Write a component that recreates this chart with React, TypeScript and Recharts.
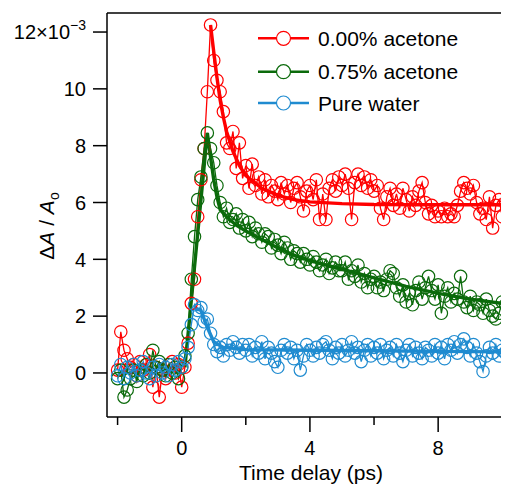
import React from 'react';
import { ComposedChart, Line, XAxis, YAxis, ReferenceLine, Legend } from 'recharts';

const FONT = '"Liberation Sans", Arial, Helvetica, sans-serif';

const T = [
  -2.0, -1.9, -1.8, -1.7, -1.6, -1.5, -1.4, -1.3, -1.2, -1.1,
  -1.0, -0.9, -0.8, -0.7, -0.6, -0.5, -0.4, -0.3, -0.2, -0.1,
  0.0, 0.1, 0.2, 0.3, 0.4, 0.5, 0.6, 0.7, 0.8, 0.9,
  1.0, 1.1, 1.2, 1.3, 1.4, 1.5, 1.6, 1.7, 1.8, 1.9,
  2.0, 2.1, 2.2, 2.3, 2.4, 2.5, 2.6, 2.7, 2.8, 2.9,
  3.0, 3.1, 3.2, 3.3, 3.4, 3.5, 3.6, 3.7, 3.8, 3.9,
  4.0, 4.1, 4.2, 4.3, 4.4, 4.5, 4.6, 4.7, 4.8, 4.9,
  5.0, 5.1, 5.2, 5.3, 5.4, 5.5, 5.6, 5.7, 5.8, 5.9,
  6.0, 6.1, 6.2, 6.3, 6.4, 6.5, 6.6, 6.7, 6.8, 6.9,
  7.0, 7.1, 7.2, 7.3, 7.4, 7.5, 7.6, 7.7, 7.8, 7.9,
  8.0, 8.1, 8.2, 8.3, 8.4, 8.5, 8.6, 8.7, 8.8, 8.9,
  9.0, 9.1, 9.2, 9.3, 9.4, 9.5, 9.6, 9.7, 9.8, 9.9,
  10.0, 10.1,
];

// values in units of 1e-3
const acetone000 = [
  0.1, 1.45, 0.8, 0.5, 0.2, 0.3, -0.1, 0.4, 0.1, 0.3,
  0.65, -0.5, 0.2, -0.85, 0.1, -0.2, 0.3, 0.4, 0.0, 0.3,
  -0.5, 0.2, 1.05, 2.45, 3.3, 5.5, 6.8, 7.9, 9.9, 12.25,
  11.0, 10.3, 9.9, 9.2, 8.1, 7.9, 8.5, 7.2, 8.1, 6.85,
  7.3, 6.5, 7.35, 6.6, 6.9, 6.3, 6.8, 6.2, 6.6, 6.4,
  6.1, 6.7, 6.3, 6.6, 6.0, 6.5, 6.7, 6.2, 5.7, 6.4,
  6.6, 6.1, 6.8, 5.4, 6.3, 5.4, 6.5, 6.8, 6.4, 6.9,
  6.6, 7.0, 6.5, 5.4, 6.7, 7.0, 6.6, 6.9, 6.5, 6.8,
  6.4, 6.6, 5.8, 5.4, 6.2, 6.5, 5.9, 6.3, 5.8, 6.5,
  6.1, 5.7, 6.2, 5.9, 6.4, 6.7, 6.0, 5.6, 5.9, 5.5,
  5.7, 5.5, 5.8, 5.5, 5.6, 5.5, 5.9, 6.4, 6.7, 6.5,
  6.3, 6.6, 6.0, 5.6, 5.8, 5.4, 6.2, 5.1, 5.9, 6.1,
  5.5, 6.0,
];

const acetone075 = [
  -0.2, 0.1, -0.85, -0.6, -0.2, 0.1, -0.3, 0.1, -0.1, 0.3,
  0.0, 0.8, 0.2, 0.4, 0.1, -0.1, 0.3, 0.0, 0.2, -0.2,
  0.2, 0.6, 1.4, 3.3, 4.8, 6.1, 6.9, 7.9, 8.45, 7.9,
  7.4, 6.6, 6.0, 5.5, 5.8, 5.3, 5.4, 5.6, 5.1, 5.4,
  5.0, 5.3, 4.8, 5.1, 4.9, 4.6, 4.9, 4.8, 4.4, 4.7,
  4.5, 4.2, 4.6, 4.4, 4.0, 4.3, 4.2, 3.9, 4.2, 4.0,
  3.8, 4.1, 3.9, 3.6, 3.8, 4.0, 3.5, 3.7, 3.9, 3.6,
  3.6, 3.9, 3.3, 3.6, 3.4, 3.8, 3.2, 3.5, 3.0, 3.3,
  3.4, 3.0, 3.2, 2.9, 3.3, 3.6, 3.5, 3.0, 2.7, 3.1,
  2.5, 2.8, 2.4, 2.9, 3.2, 2.6, 3.0, 3.4, 2.9, 2.6,
  3.1, 2.1, 2.7, 3.0, 2.5, 2.8, 2.6, 3.4, 2.5, 2.3,
  2.7, 2.2, 2.5, 2.4, 2.1, 2.6, 2.2, 2.0, 1.9, 2.1,
  2.5, 2.4,
];

const pureWater = [
  -0.1, 0.3, -0.2, 0.2, 0.0, 0.3, -0.1, 0.1, 0.4, 0.0,
  -0.2, 0.2, -0.1, 0.3, 0.0, 0.2, -0.1, 0.3, 0.1, 0.4,
  0.2, 0.5, 0.9, 1.7, 2.4, 2.2, 2.3, 1.8, 1.9, 1.4,
  1.0, 0.75, 0.9, 0.6, 1.0, 0.8, 1.1, 0.9, 0.7, 1.0,
  0.8, 1.0, 0.6, 0.9, 0.7, 1.1, 0.5, 0.9, 0.7, 0.4,
  0.2, 0.8, 1.0, 0.7, 0.9, 0.5, 0.8, 0.1, 0.6, 1.0,
  0.8, 0.6, 0.9, 0.7, 1.0, 1.1, 0.8, 0.5, 0.9, 0.7,
  1.0, 0.6, 0.8, 1.1, 0.7, 0.9, 0.4, 0.8, 1.0, 0.6,
  0.9, 0.7, 1.0, 0.5, 0.8, 0.9, 0.6, 1.0, 0.7, 0.4,
  0.8, 1.0, 0.6, 0.9, 0.7, 0.5, 0.9, 0.8, 0.6, 1.0,
  0.7, 0.9, 0.5, 1.0, 0.8, 1.1, 0.7, 1.0, 1.2, 0.9,
  0.6, 1.0, 0.7, 0.4, 0.05, 0.6, 0.9, 0.7, 1.0, 0.6,
  0.8, 0.7,
];

const fit000T = [0.9, 1.0, 1.1, 1.2, 1.3, 1.4, 1.6, 1.8, 2.0, 2.5, 3.0, 3.5, 4.0, 5.0, 6.0, 8.0, 10.2];
const fit000V = [12.25, 11.3, 10.4, 9.6, 9.0, 8.5, 7.8, 7.3, 6.95, 6.5, 6.25, 6.1, 6.02, 5.96, 5.93, 5.92, 5.92];

const fit075T = [0.1, 0.8, 0.9, 1.0, 1.1, 1.2, 1.4, 1.7, 2.0, 2.5, 3.0, 3.5, 4.0, 5.0, 6.0, 7.0, 8.0, 9.0, 10.2];
const fit075V = [0.2, 8.45, 7.6, 6.8, 6.2, 5.75, 5.5, 5.2, 5.0, 4.7, 4.4, 4.15, 3.95, 3.65, 3.35, 3.05, 2.8, 2.6, 2.42];

const fitWaterT = [0.4, 0.6, 0.8, 1.0, 1.3, 2.0, 4.0, 6.0, 8.0, 10.2];
const fitWaterV = [2.3, 2.2, 1.6, 1.1, 0.9, 0.82, 0.8, 0.78, 0.76, 0.74];

const seriesNames = ['0.00% acetone', '0.75% acetone', 'Pure water'];
const colors = ['#ff0000', '#0b6a0b', '#1f8bd0'];

const xTicks = [-2, 0, 2, 4, 6, 8, 10];
const xLabelled = [0, 4, 8];
const yTicks = [0, 2, 4, 6, 8, 10, 12];

const X_DOMAIN: [number, number] = [-2.33, 10.21];
const Y_DOMAIN: [number, number] = [-1.55, 12.67];

const toRows = (ts: number[], vs: number[]) => ts.map((t, i) => ({ t, v: vs[i] }));

const d000 = toRows(T, acetone000);
const d075 = toRows(T, acetone075);
const dWater = toRows(T, pureWater);
const f000 = toRows(fit000T, fit000V);
const f075 = toRows(fit075T, fit075V);
const fWater = toRows(fitWaterT, fitWaterV);

const YTick = (props: any) => {
  const { x, y, payload } = props;
  const v = payload.value;
  return (
    <g>
      <line x1={x - 14} x2={x} y1={y} y2={y} stroke="#000" strokeWidth={1.5} />
      <text x={x - 21} y={y} dy="0.36em" textAnchor="end" fontSize={20} fontFamily={FONT} fill="#000">
        {v === 12 ? (
          <>
            12×10
            <tspan fontSize={14} dy={-9}>−3</tspan>
          </>
        ) : (
          String(v)
        )}
      </text>
    </g>
  );
};

const XTick = (props: any) => {
  const { x, y, payload } = props;
  const v = payload.value;
  const major = xLabelled.includes(v);
  return (
    <g>
      <line x1={x} x2={x} y1={y} y2={y + (major ? 15 : 8)} stroke="#000" strokeWidth={1.5} />
      {major && (
        <text x={x} y={y + 38} textAnchor="middle" fontSize={20} fontFamily={FONT} fill="#000">
          {String(v)}
        </text>
      )}
    </g>
  );
};

const YLabel = () => {
  const cx = 38.5;
  const cy = 218;
  return (
    <text
      x={cx}
      y={cy}
      transform={`rotate(-90 ${cx} ${cy})`}
      textAnchor="middle"
      dy="0.36em"
      fontSize={21}
      fontFamily={FONT}
      fill="#000"
    >
      Δ<tspan fontStyle="italic">A</tspan> / <tspan fontStyle="italic">A</tspan>
      <tspan fontSize={14} dy={5}>o</tspan>
    </text>
  );
};

const XLabel = () => (
  <text x={303} y={472} textAnchor="middle" fontSize={21} fontFamily={FONT} fill="#000">
    Time delay (ps)
  </text>
);

const LegendContent = () => {
  const rows = [18.3, 51.7, 83];
  return (
    <svg width={260} height={100} style={{ display: 'block' }}>
      {seriesNames.map((name, i) => (
        <g key={name}>
          <line x1={5} x2={56} y1={rows[i]} y2={rows[i]} stroke={colors[i]} strokeWidth={2.5} />
          <circle cx={30.5} cy={rows[i]} r={7} fill="#fff" stroke={colors[i]} strokeWidth={1.2} />
          <text x={65} y={rows[i]} dy="0.36em" fontSize={21} fontFamily={FONT} fill="#000">
            {name}
          </text>
        </g>
      ))}
    </svg>
  );
};

const dotStyle = (c: string) => ({ r: 6.2, fill: 'none', stroke: c, strokeWidth: 1.2 });

export default function App() {
  return (
    <div style={{ width: 501, height: 476, fontFamily: FONT }}>
      <ComposedChart width={501} height={476} margin={{ top: 5, right: 0, bottom: 0, left: 0 }}>
        <XAxis
          type="number"
          dataKey="t"
          domain={X_DOMAIN}
          allowDataOverflow
          ticks={xTicks}
          interval={0}
          height={67}
          tickSize={0}
          tickMargin={0}
          tickLine={false}
          tick={<XTick />}
          axisLine={{ stroke: '#000', strokeWidth: 1.5 }}
          label={<XLabel />}
        />
        <YAxis
          type="number"
          domain={Y_DOMAIN}
          allowDataOverflow
          ticks={yTicks}
          interval={0}
          width={99}
          tickSize={0}
          tickMargin={0}
          tickLine={false}
          tick={<YTick />}
          axisLine={{ stroke: '#000', strokeWidth: 1.5 }}
          label={<YLabel />}
        />
        <ReferenceLine y={Y_DOMAIN[1]} stroke="#000" strokeWidth={1.5} ifOverflow="visible" />
        <Line data={d000} dataKey="v" type="linear" stroke={colors[0]} strokeWidth={1.3} dot={dotStyle(colors[0])} isAnimationActive={false} legendType="none" />
        <Line data={f000} dataKey="v" type="linear" stroke={colors[0]} strokeWidth={3.4} dot={false} isAnimationActive={false} legendType="none" />
        <Line data={d075} dataKey="v" type="linear" stroke={colors[1]} strokeWidth={1.3} dot={dotStyle(colors[1])} isAnimationActive={false} legendType="none" />
        <Line data={f075} dataKey="v" type="linear" stroke={colors[1]} strokeWidth={3.4} dot={false} isAnimationActive={false} legendType="none" />
        <Line data={dWater} dataKey="v" type="linear" stroke={colors[2]} strokeWidth={1.3} dot={dotStyle(colors[2])} isAnimationActive={false} legendType="none" />
        <Line data={fWater} dataKey="v" type="linear" stroke={colors[2]} strokeWidth={3.4} dot={false} isAnimationActive={false} legendType="none" />
        <Legend
          layout="vertical"
          align="center"
          verticalAlign="middle"
          content={<LegendContent />}
          wrapperStyle={{ left: 245, top: 12, width: 260, height: 100 }}
        />
      </ComposedChart>
    </div>
  );
}
